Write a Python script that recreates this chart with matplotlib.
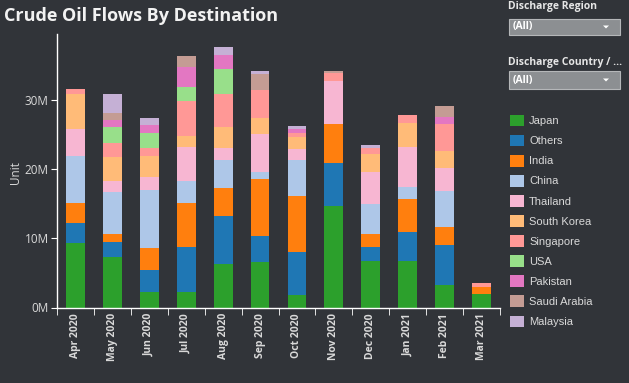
import numpy as np
import matplotlib.pyplot as plt
from matplotlib.patches import Rectangle, Polygon

# months on the x axis
months = ["Apr 2020", "May 2020", "Jun 2020", "Jul 2020", "Aug 2020", "Sep 2020",
          "Oct 2020", "Nov 2020", "Dec 2020", "Jan 2021", "Feb 2021", "Mar 2021"]

# flows per destination, millions of units
japan = [9.3, 7.25, 2.2, 2.2, 6.3, 6.6, 1.75, 14.7, 6.7, 6.7, 3.3, 2.0]
others = [3.0, 2.2, 3.2, 6.5, 7.0, 3.7, 6.35, 6.2, 2.0, 4.3, 5.8, 0.0]
india = [2.9, 1.15, 3.2, 6.5, 4.0, 8.25, 8.0, 5.6, 2.0, 4.65, 2.6, 0.9]
china = [6.7, 6.1, 8.45, 3.1, 4.1, 1.05, 5.25, 0.0, 4.3, 1.75, 5.2, 0.0]
thailand = [3.9, 1.6, 1.8, 4.9, 1.7, 5.5, 1.55, 6.25, 4.6, 5.8, 3.3, 0.0]
south_korea = [5.1, 3.5, 3.1, 1.6, 3.0, 2.4, 1.75, 0.0, 2.6, 3.5, 2.5, 0.0]
singapore = [0.7, 2.0, 1.2, 5.1, 4.8, 4.0, 0.6, 1.15, 0.9, 1.1, 3.9, 0.6]
usa = [0.0, 2.3, 2.1, 2.0, 3.6, 0.0, 0.0, 0.0, 0.0, 0.0, 0.0, 0.0]
pakistan = [0.0, 1.0, 1.2, 2.9, 2.0, 0.0, 0.6, 0.0, 0.0, 0.0, 1.0, 0.0]
saudi_arabia = [0.0, 1.0, 0.0, 1.6, 0.0, 2.3, 0.0, 0.3, 0.0, 0.0, 1.6, 0.0]
malaysia = [0.0, 2.8, 1.0, 0.0, 1.2, 0.5, 0.4, 0.0, 0.4, 0.0, 0.0, 0.0]

series = [
    ("Japan", japan, "#2ca02c"),
    ("Others", others, "#1f77b4"),
    ("India", india, "#ff7f0e"),
    ("China", china, "#aec7e8"),
    ("Thailand", thailand, "#f7b6d2"),
    ("South Korea", south_korea, "#ffbb78"),
    ("Singapore", singapore, "#ff9896"),
    ("USA", usa, "#98df8a"),
    ("Pakistan", pakistan, "#e377c2"),
    ("Saudi Arabia", saudi_arabia, "#c49c94"),
    ("Malaysia", malaysia, "#c5b0d5"),
]

bg = "#313439"
txt = "#d9d9d9"
plt.rcParams['font.family'] = ['Open Sans', 'DejaVu Sans']

fig = plt.figure(figsize=(6.29, 3.83), dpi=100, facecolor=bg)
ax = fig.add_axes([57 / 629, 1 - 307.5 / 383, 443 / 629, 273.5 / 383])
ax.set_facecolor(bg)

x = np.arange(len(months))
bottom = np.zeros(len(months))
handles = []
for name, vals, col in series:
    vals = np.array(vals)
    b = ax.bar(x, vals, 0.51, bottom=bottom, color=col, label=name, linewidth=0)
    handles.append(b)
    bottom += vals

ax.set_xlim(-0.47, 11.5)
ax.set_ylim(0, 39.6)
ax.set_yticks([0, 10, 20, 30])
ax.set_yticklabels(["0M", "10M", "20M", "30M"], color=txt, fontsize=8.5)
ax.set_xticks(x)
ax.set_xticklabels(months, rotation=90, color=txt, fontsize=7.5, fontweight="bold")
ax.set_xticks(np.arange(len(months) + 1) - 0.5, minor=True)
ax.tick_params(axis="x", which="major", length=0, pad=4)
ax.tick_params(axis="x", which="minor", length=5, color="white")
ax.tick_params(axis="y", length=4, color="white", pad=2)
ax.set_ylabel("Unit", color=txt, fontsize=8.5)
ax.yaxis.set_label_coords(-0.08, 0.495)
for s in ["top", "right"]:
    ax.spines[s].set_visible(False)
for s in ["left", "bottom"]:
    ax.spines[s].set_color("white")
    ax.spines[s].set_linewidth(1)

fig.text(4 / 629, 1 - 16 / 383, "Crude Oil Flows By Destination", color="#f2f2f2",
         fontsize=13, fontweight="bold", va="center", ha="left")

# filter widgets on the right
def dropdown(label, ly, by0, by1):
    fig.text(508 / 629, 1 - ly / 383, label, color="#e6e6e6", fontsize=7.5,
             fontweight="bold", va="center")
    fig.add_artist(Rectangle((509 / 629, 1 - by1 / 383), 111 / 629, (by1 - by0) / 383,
                             transform=fig.transFigure, facecolor="#8c8f92",
                             edgecolor="#b5b7b9", linewidth=0.8))
    fig.text(513 / 629, 1 - (by0 + by1) / 2 / 383, "(All)", color="white", fontsize=7.5,
             fontweight="bold", va="center")
    cy = (by0 + by1) / 2
    fig.add_artist(Polygon([[603 / 629, 1 - (cy - 1.5) / 383], [609 / 629, 1 - (cy - 1.5) / 383],
                            [606 / 629, 1 - (cy + 1.5) / 383]], closed=True,
                           transform=fig.transFigure, facecolor="white", edgecolor="none"))

dropdown("Discharge Region", 7, 19, 35)
dropdown("Discharge Country / ...", 63, 71, 89)

fig.legend(handles=handles, loc="upper left", bbox_to_anchor=(510 / 629, 1 - 114.5 / 383),
           frameon=False, labelcolor=txt, handlelength=1.26, handleheight=1.26,
           handletextpad=0.45, labelspacing=0.745, borderaxespad=0, borderpad=0,
           prop={"family": ["Liberation Sans", "DejaVu Sans"], "size": 8})

fig.savefig("out.png", dpi=100, facecolor=bg)
